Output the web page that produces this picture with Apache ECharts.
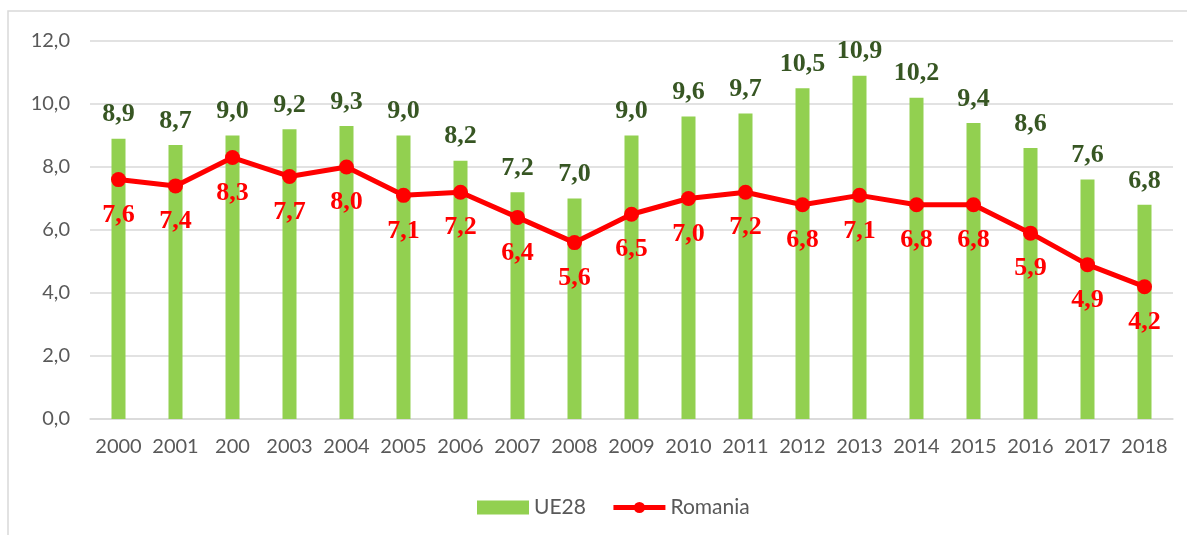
<!DOCTYPE html>
<html><head><meta charset="utf-8">
<script src="https://cdn.jsdelivr.net/npm/echarts@6/dist/echarts.min.js"></script>
<style>html,body{margin:0;padding:0;background:#fff}#c{width:1187px;height:535px}</style>
</head><body><div id="c"></div>
<script>
const years = ['2000','2001','200','2003','2004','2005','2006','2007','2008','2009','2010','2011','2012','2013','2014','2015','2016','2017','2018'];
const ue28 = [8.9,8.7,9.0,9.2,9.3,9.0,8.2,7.2,7.0,9.0,9.6,9.7,10.5,10.9,10.2,9.4,8.6,7.6,6.8];
const romania = [7.6,7.4,8.3,7.7,8.0,7.1,7.2,6.4,5.6,6.5,7.0,7.2,6.8,7.1,6.8,6.8,5.9,4.9,4.2];
const fmt = v => v.toFixed(1).replace('.', ',');
const chart = echarts.init(document.getElementById('c'));
chart.setOption({
  animation: false,
  backgroundColor: '#fff',
  graphic: [{type:'rect', shape:{x:8,y:11,width:1300,height:600}, style:{fill:'none', stroke:'#d9d9d9', lineWidth:1.5}, z:-1}],
  grid: {left:90, right:14, top:41, bottom:116},
  legend: {
    top: 492, left: 472, itemWidth: 52, itemHeight: 14, itemGap: 25,
    textStyle: {fontFamily:'Lato', fontSize:21, color:'#595959'},
    data: [{name:'UE28', icon:'rect'}, {name:'Romania', lineStyle:{width:5}}]
  },
  xAxis: {
    type:'category', data: years,
    axisLine:{lineStyle:{color:'#d9d9d9', width:1.5}},
    axisTick:{show:false},
    axisLabel:{interval:0, fontFamily:'Lato', fontSize:20, color:'#595959', margin:18}
  },
  yAxis: {
    type:'value', min:0, max:12, interval:2,
    axisLine:{show:false}, axisTick:{show:false},
    splitLine:{lineStyle:{color:'#d9d9d9', width:1.5}},
    axisLabel:{fontFamily:'Lato', fontSize:20, color:'#595959', margin:20, formatter: v => fmt(v)}
  },
  series: [
    {name:'UE28', type:'bar', data: ue28, barWidth:14, itemStyle:{color:'#92D050'},
     label:{show:true, position:'top', distance:11, formatter: p => fmt(p.value),
       fontFamily:'Liberation Serif', fontWeight:'bold', fontSize:26, color:'#375623'}},
    {name:'Romania', type:'line', data: romania, symbol:'circle', symbolSize:15,
     lineStyle:{color:'#FF0000', width:5}, itemStyle:{color:'#FF0000'},
     label:{show:true, position:'bottom', distance:15, formatter: p => fmt(p.value),
       fontFamily:'Liberation Serif', fontWeight:'bold', fontSize:26, color:'#FF0000'}}
  ]
});
</script></body></html>
